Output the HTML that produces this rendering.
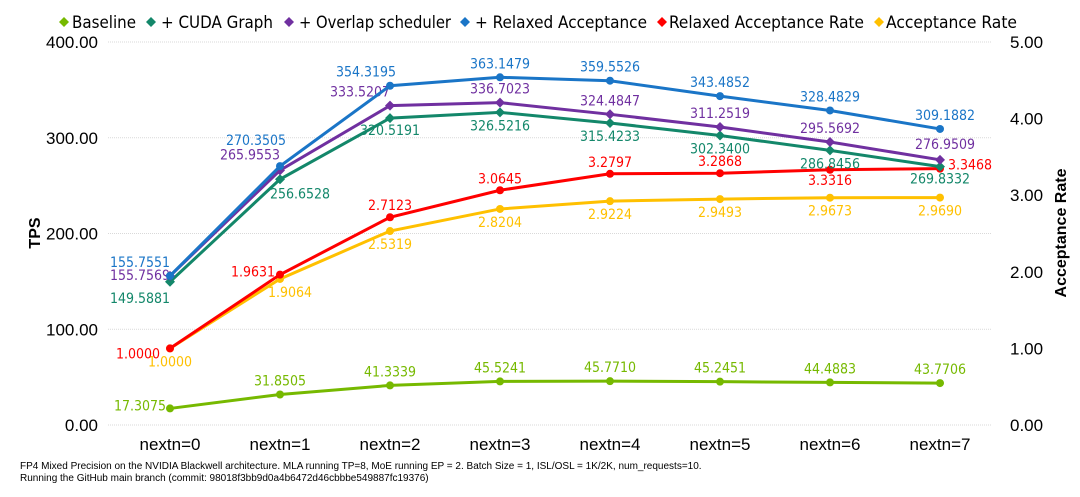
<!DOCTYPE html>
<html><head><meta charset="utf-8"><style>
body{margin:0;background:#fff;}
svg{display:block;font-family:"Liberation Sans",sans-serif;}
.nar{font-family:"Liberation Sans Narrow","DejaVu Sans Condensed","Liberation Sans",sans-serif;}
</style></head><body>
<svg id="chart" width="1080" height="497"></svg>
<script>
const categories=["nextn=0","nextn=1","nextn=2","nextn=3","nextn=4","nextn=5","nextn=6","nextn=7"];
const baseline=[17.3075,31.8505,41.3339,45.5241,45.7710,45.2451,44.4883,43.7706];
const cudaGraph=[149.5881,256.6528,320.5191,326.5216,315.4233,302.3400,286.8456,269.8332];
const overlap=[155.7569,265.9553,333.5207,336.7023,324.4847,311.2519,295.5692,276.9509];
const relaxed=[155.7551,270.3505,354.3195,363.1479,359.5526,343.4852,328.4829,309.1882];
const relaxedRate=[1.0000,1.9631,2.7123,3.0645,3.2797,3.2868,3.3316,3.3468];
const accRate=[1.0000,1.9064,2.5319,2.8204,2.9224,2.9493,2.9673,2.9690];
const leftTicks=["0.00","100.00","200.00","300.00","400.00"];
const rightTicks=["0.00","1.00","2.00","3.00","4.00","5.00"];

const NS="http://www.w3.org/2000/svg";
const svg=document.getElementById('chart');
const yTop=42,yBot=425;
const xS=i=>170+i*110;
const yL=v=>yBot-(v/400)*(yBot-yTop);
const yR=v=>yBot-(v/5)*(yBot-yTop);
function el(t,a,p){const e=document.createElementNS(NS,t);for(const k in a)e.setAttribute(k,a[k]);(p||svg).appendChild(e);return e;}
function txt(s,x,y,a,p){const e=el('text',Object.assign({x:x,y:y},a),p);e.textContent=s;return e;}

leftTicks.forEach((t,i)=>{const v=i*100;
 const g=el('line',{x1:108,x2:992,y1:yL(v),y2:yL(v),stroke:'#d9d9d9','stroke-width':1,'stroke-dasharray':'1,1'});
 
 
 const l=txt(t,98,yL(v)+6,{'text-anchor':'end','font-size':17,fill:'#000'});
 
 
});
rightTicks.forEach((t,i)=>{
 const l=txt(t,1010,yR(i)+6,{'text-anchor':'start','font-size':17,fill:'#000'});
 
 
});
categories.forEach((c,i)=>{
 const l=txt(c,xS(i),450,{'text-anchor':'middle','font-size':17,fill:'#000'});
 
 
});
const yt=txt('TPS',0,0,{transform:'translate(40,233) rotate(-90)','text-anchor':'middle','font-size':16,'font-weight':'bold'});


const yt2=txt('Acceptance Rate',0,0,{transform:'translate(1066,233) rotate(-90)','text-anchor':'middle','font-size':16,'font-weight':'bold'});



const series=[
 {name:'baseline',data:baseline,y:yL,color:'#76b900',m:'c',off:[[-30,-3],[0,-14],[0,-14],[0,-14],[0,-14],[0,-14],[0,-14],[0,-14]]},
 {name:'acceptance-rate',data:accRate,y:yR,color:'#ffc000',m:'c',off:[[0,13],[10,13],[0,13],[0,13],[0,13],[0,13],[0,13],[0,13]]},
 {name:'relaxed-acceptance-rate',data:relaxedRate,y:yR,color:'#ff0000',m:'c',off:[[-32,5],[-27,-3],[0,-12],[0,-12],[0,-12],[0,-12],[0,10],[30,-4]]},
 {name:'cuda-graph',data:cudaGraph,y:yL,color:'#13876a',m:'d',off:[[-30,16],[20,14],[0,12],[0,13],[0,13],[0,13],[0,13],[0,12]]},
 {name:'overlap-scheduler',data:overlap,y:yL,color:'#7030a0',m:'d',off:[[-30,-1],[-30,-16],[-30,-14],[0,-14],[0,-14],[0,-14],[0,-14],[5,-16]]},
 {name:'relaxed-acceptance',data:relaxed,y:yL,color:'#1a75c7',m:'c',off:[[-30,-14],[-24,-26],[-24,-14],[0,-14],[0,-14],[0,-14],[0,-14],[5,-14]]}
];
series.forEach(s=>{
 const g=el('g',{});
 
 
 const pts=s.data.map((v,i)=>xS(i)+','+s.y(v)).join(' ');
 const pl=el('polyline',{points:pts,fill:'none',stroke:s.color,'stroke-width':3},g);
 
 
 s.data.forEach((v,i)=>{
  const x=xS(i),y=s.y(v);
  let mk;
  if(s.m==='c') mk=el('circle',{cx:x,cy:y,r:4,fill:s.color},g);
  else mk=el('polygon',{points:`${x},${y-5} ${x+5},${y} ${x},${y+5} ${x-5},${y}`,fill:s.color},g);
  
  
  const o=s.off[i];
  const lb=txt(v.toFixed(4),x+o[0],y+o[1]+5,{'text-anchor':'middle','font-size':14,fill:s.color,'class':'nar'},g);
  
  
 });
});

const legend=[
 {t:'Baseline',c:'#76b900',x:64,tx:72,w:64},
 {t:'+ CUDA Graph',c:'#13876a',x:151,tx:161,w:112},
 {t:'+ Overlap scheduler',c:'#7030a0',x:289,tx:299,w:152},
 {t:'+ Relaxed Acceptance',c:'#1a75c7',x:465,tx:475,w:172},
 {t:'Relaxed Acceptance Rate',c:'#ff0000',x:662,tx:669,w:195},
 {t:'Acceptance Rate',c:'#ffc000',x:879,tx:886,w:131}
];
legend.forEach(L=>{
 const g=el('g',{});
 
 
 el('polygon',{points:`${L.x},17 ${L.x+5},22 ${L.x},27 ${L.x-5},22`,fill:L.c},g);
 txt(L.t,L.tx,28,{'font-size':17,fill:'#000','class':'nar',textLength:L.w,lengthAdjust:'spacingAndGlyphs'},g);
});

const f1=txt('FP4 Mixed Precision on the NVIDIA Blackwell architecture. MLA running TP=8, MoE running EP = 2. Batch Size = 1, ISL/OSL = 1K/2K, num_requests=10.',20,469,{'font-size':10,fill:'#000'});


const f2=txt('Running the GitHub main branch (commit: 98018f3bb9d0a4b6472d46cbbbe549887fc19376)',20,481,{'font-size':10,fill:'#000'});


</script>
</body></html>
